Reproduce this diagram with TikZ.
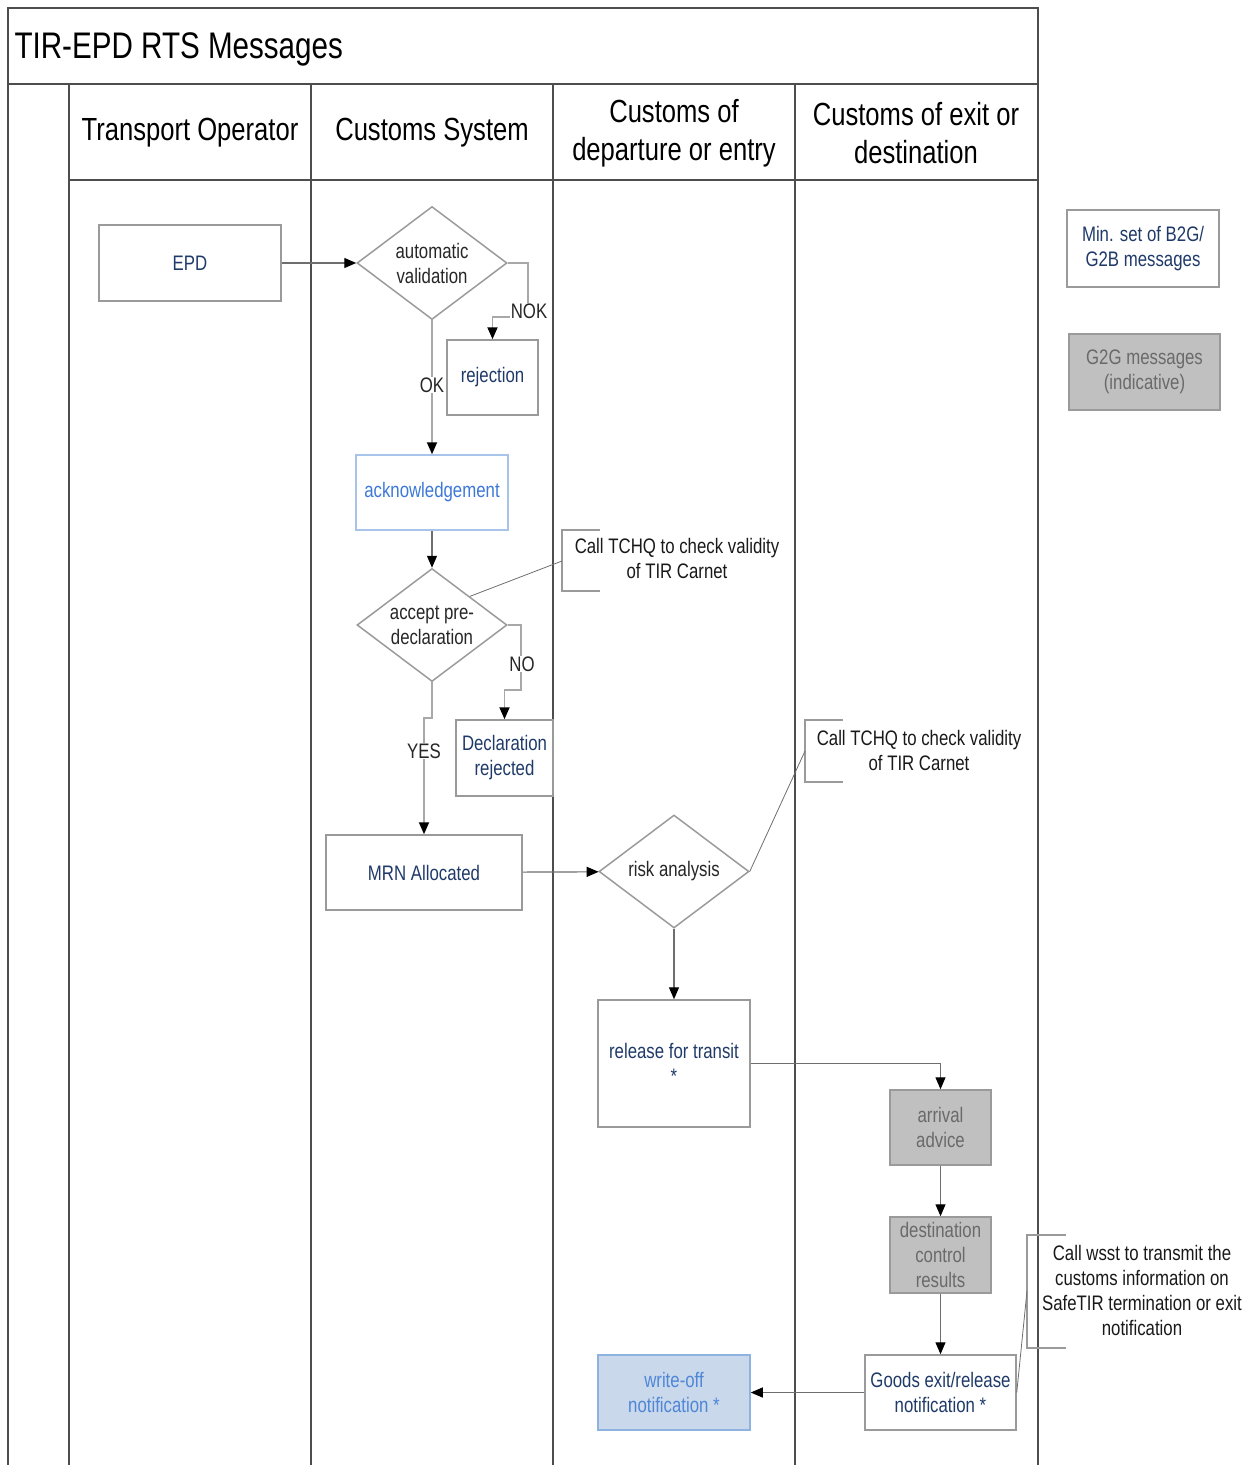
\documentclass[tikz,border=0pt]{standalone}
\usepackage{fontspec}
\setmainfont{Liberation Sans}[FakeStretch=0.8]
\usetikzlibrary{positioning, shapes.geometric, arrows.meta, calc}
\definecolor{lane}{HTML}{4D4D4D}
\definecolor{boxline}{HTML}{9A9A9A}
\definecolor{navy}{HTML}{1F3A68}
\definecolor{ackblue}{HTML}{3C78D8}
\definecolor{ackline}{HTML}{A9C4EB}
\definecolor{g2gfill}{HTML}{C0C0C0}
\definecolor{g2gtext}{HTML}{6A6A6A}
\definecolor{wofill}{HTML}{C9D8EB}
\definecolor{woline}{HTML}{8FB3E0}
\definecolor{wotext}{HTML}{4F86D6}
\definecolor{connline}{HTML}{6E6E6E}
\definecolor{branchline}{HTML}{A8A8A8}

\begin{document}
\begin{tikzpicture}[x=1pt, y=-1pt, font=\fontsize{21}{25}\selectfont,
  lanes/.style={draw=lane, line width=2pt},
  header/.style={align=center, font=\fontsize{32}{38}\selectfont},
  msg/.style={rectangle, draw=boxline, line width=1.5pt, text=navy, align=center, inner sep=2pt},
  g2g/.style={msg, fill=g2gfill, text=g2gtext},
  decision/.style={diamond, aspect=1.33, draw=boxline, line width=1.5pt, align=center, inner sep=0pt,
                   minimum width=150pt, minimum height=113pt, text=black!85},
  flow/.style={draw=connline, line width=1.2pt, -{Triangle[length=12pt, width=10pt, color=black]}},
  branch/.style={flow, draw=branchline, line width=1.8pt},
  edgelabel/.style={fill=white, inner sep=1pt, text=black!85},
  note/.style={align=center, text=black!90},
  bracket/.style={draw=boxline, line width=1.5pt},
  tie/.style={draw=connline, line width=0.8pt}]
  \useasboundingbox (0,0) rectangle (1250,1465);

  % swimlane frame
  \draw[lanes] (8,8) rectangle (1038,84);
  \node[anchor=west, font=\fontsize{37}{44}\selectfont] (title) at (11,49) {TIR-EPD RTS Messages};
  \foreach \x in {8,69,311,553,795,1038}
    \draw[lanes] (\x,84) -- (\x,1465);
  \draw[lanes] (69,180) -- (1038,180);
  \node[header] (hdoperator) at (190,133) {Transport Operator};
  \node[header] (hdsystem) at (432,133) {Customs System};
  \node[header] (hddeparture) at (674,133) {Customs of\\departure or entry};
  \node[header] (hdexit) at (916,133) {Customs of exit or\\destination};

  % messages
  \node[msg, minimum width=182pt, minimum height=76pt] (epd) at (190,263) {EPD};
  \node[decision] (autoval) at (432,263) {automatic\\validation};
  \node[msg, minimum width=91pt, minimum height=75pt] (rejection) at (492.5,377.5) {rejection};
  \node[msg, draw=ackline, text=ackblue, minimum width=152pt, minimum height=75pt] (ack) at (432,492.5) {acknowledgement};
  \node[decision] (accept) at (432,625) {accept pre-\\declaration};
  \node[msg, minimum width=97pt, minimum height=76pt] (declrej) at (504.5,758) {Declaration\\rejected};
  \node[msg, minimum width=196pt, minimum height=75pt] (mrn) at (424,872.5) {MRN Allocated};
  \node[decision] (risk) at (674,871.5) {risk analysis};
  \node[msg, minimum width=152pt, minimum height=127pt] (release) at (674,1063.5) {release for transit\\*};
  \node[g2g, minimum width=101pt, minimum height=75pt] (arrival) at (940.5,1127.5) {arrival\\advice};
  \node[g2g, minimum width=101pt, minimum height=76pt] (destctrl) at (940.5,1255) {destination\\control\\results};
  \node[msg, minimum width=151pt, minimum height=75pt] (goodsexit) at (940.5,1392.5) {Goods exit/release\\notification *};
  \node[msg, fill=wofill, draw=woline, text=wotext, minimum width=152pt, minimum height=75pt] (writeoff) at (674,1392.5) {write-off\\notification *};

  % legend
  \node[msg, minimum width=152pt, minimum height=77pt] (legb2g) at (1143,248.5) {Min. set of B2G/\\G2B messages};
  \node[g2g, minimum width=151pt, minimum height=76pt] (legg2g) at (1144.5,372) {G2G messages\\(indicative)};

  % callouts
  \draw[bracket] (600,530) -- (562,530) -- (562,591) -- (600,591);
  \node[note] (tchqdep) at (677,558) {Call TCHQ to check validity\\of TIR Carnet};
  \coordinate (tchqdeptie) at (562,561);
  \draw[tie] (tchqdeptie) -- (accept.north east);
  \draw[bracket] (843,720) -- (805,720) -- (805,782) -- (843,782);
  \node[note] (tchqrisk) at (919,750) {Call TCHQ to check validity\\of TIR Carnet};
  \coordinate (tchqrisktie) at (805,751);
  \draw[tie] (tchqrisktie) -- (risk.east);
  \draw[bracket] (1066,1235) -- (1027,1235) -- (1027,1348) -- (1066,1348);
  \node[note] (wsst) at (1142,1290) {Call wsst to transmit the\\customs information on\\SafeTIR termination or exit\\notification};
  \coordinate (wssttie) at (1027,1291);
  \draw[tie] (wssttie) -- (goodsexit.east);

  % flows
  \draw[flow] (epd) -- (autoval);
  \draw[branch] (autoval.east) -| (528,317) -| (rejection.north);
  \node[edgelabel] (noklbl) at (529,311) {NOK};
  \draw[branch] (autoval) -- (ack);
  \node[edgelabel] (oklbl) at (432,385) {OK};
  \draw[flow] (ack) -- (accept);
  \draw[branch] (accept.east) -| (521,690) -| (declrej.north);
  \node[edgelabel] (nolbl) at (522,664) {NO};
  \draw[branch] (accept.south) -- (432,718) -| (mrn.north);
  \node[edgelabel] (yeslbl) at (424,751) {YES};
  \draw[flow] (mrn) -- (risk);
  \draw[flow] (risk) -- (release);
  \draw[flow] (release.east) -| (arrival.north);
  \draw[flow] (arrival) -- (destctrl);
  \draw[flow] (destctrl) -- (goodsexit);
  \draw[flow] (goodsexit) -- (writeoff);
\end{tikzpicture}
\end{document}
